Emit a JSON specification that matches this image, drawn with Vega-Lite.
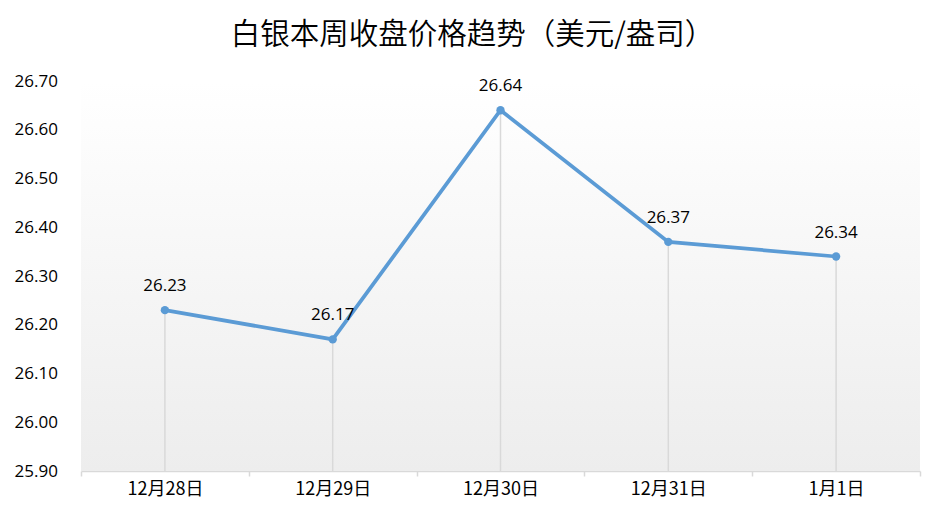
{
  "$schema": "https://vega.github.io/schema/vega-lite/v6.json",
  "autosize": {"type": "none"},
  "width": 839,
  "height": 390,
  "padding": {"left": 81, "top": 81, "right": 24, "bottom": 52},
  "background": "#ffffff",
  "title": {
    "text": "白银本周收盘价格趋势（美元/盎司）",
    "font": "Noto Sans CJK SC",
    "fontSize": 29.5,
    "fontWeight": 350,
    "color": "#000000",
    "anchor": "middle",
    "dx": -28,
    "offset": 22
  },
  "config": {
    "view": {"stroke": null},
    "axis": {"labelFont": "Open Sans", "labelFontSize": 17, "labelColor": "#000000"}
  },
  "data": {
    "values": [
      {"date": "12月28日", "price": 26.23},
      {"date": "12月29日", "price": 26.17},
      {"date": "12月30日", "price": 26.64},
      {"date": "12月31日", "price": 26.37},
      {"date": "1月1日", "price": 26.34}
    ]
  },
  "layer": [
    {
      "data": {"values": [{"k": 1}]},
      "mark": {
        "type": "rect",
        "color": {
          "gradient": "linear",
          "x1": 0, "y1": 0, "x2": 0, "y2": 1,
          "stops": [
            {"offset": 0, "color": "#ffffff"},
            {"offset": 1, "color": "#ededed"}
          ]
        }
      },
      "encoding": {}
    },
    {
      "mark": {"type": "rule", "color": "#d9d9d9", "strokeWidth": 1.5},
      "encoding": {
        "x": {"field": "date", "type": "nominal", "sort": null, "bandPosition": 0.5},
        "y": {"field": "price", "type": "quantitative"},
        "y2": {"datum": 25.9}
      }
    },
    {
      "mark": {"type": "line", "color": "#5b9bd5", "strokeWidth": 3.75, "point": {"filled": true, "size": 70, "color": "#5b9bd5"}},
      "encoding": {
        "x": {
          "field": "date", "type": "nominal", "sort": null, "title": null, "bandPosition": 0.5,
          "scale": {"type": "band", "paddingInner": 0, "paddingOuter": 0},
          "axis": {
            "labelAngle": 0,
            "labelAlign": "center",
            "labelFont": "Noto Sans CJK SC",
            "labelFontSize": 18,
            "labelPadding": 13,
            "domainColor": "#d9d9d9",
            "domainWidth": 1.5,
            "tickColor": "#d9d9d9",
            "tickWidth": 1.5,
            "tickSize": 5,
            "tickBand": "extent",
            "grid": false
          }
        },
        "y": {
          "field": "price", "type": "quantitative", "title": null,
          "scale": {"domain": [25.9, 26.7], "nice": false, "zero": false},
          "axis": {
            "values": [25.9, 26.0, 26.1, 26.2, 26.3, 26.4, 26.5, 26.6, 26.7],
            "format": ".2f",
            "domain": false,
            "ticks": false,
            "grid": false,
            "labelAlign": "left",
            "labelPadding": 67,
            "labelFontSize": 17
          }
        }
      }
    },
    {
      "mark": {"type": "text", "dy": -24, "font": "Open Sans", "fontSize": 17, "color": "#000000"},
      "encoding": {
        "x": {"field": "date", "type": "nominal", "sort": null, "bandPosition": 0.5},
        "y": {"field": "price", "type": "quantitative"},
        "text": {"field": "price", "type": "quantitative", "format": ".2f"}
      }
    }
  ]
}
